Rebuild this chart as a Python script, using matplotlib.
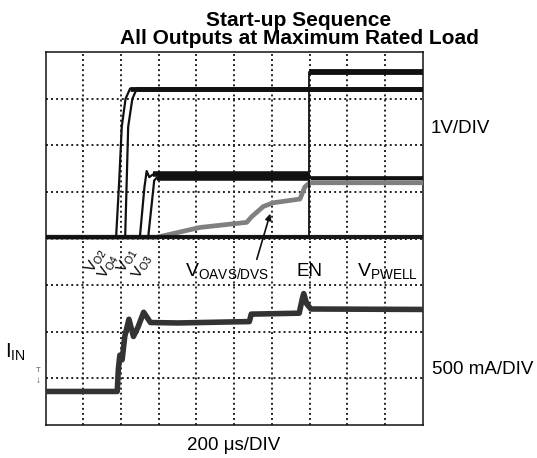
import matplotlib
matplotlib.use("Agg")
import matplotlib.pyplot as plt

plt.rcParams['font.family'] = ['Liberation Sans', 'DejaVu Sans']
plt.rcParams['mathtext.fontset'] = 'custom'
plt.rcParams['mathtext.rm'] = 'Liberation Sans'
plt.rcParams['mathtext.it'] = 'Liberation Sans'
plt.rcParams['mathtext.default'] = 'regular'

# ---- data (oscilloscope divisions: x 0..10, y 0..8) ----
gnd_x = [0, 10]
gnd_y = [4.03, 4.03]
vo2_x = [0, 1.87, 1.95, 2.02, 2.12, 2.24, 10]
vo2_y = [4.03, 4.03, 5.2, 6.4, 7.0, 7.22, 7.22]
vo4_x = [0, 2.11, 2.15, 2.19, 2.30, 2.42, 10]
vo4_y = [4.03, 4.03, 5.2, 6.4, 7.0, 7.22, 7.22]
vo1_x = [0, 2.50, 2.62, 2.68, 2.75, 2.85, 6.97, 7.02, 10]
vo1_y = [4.03, 4.03, 5.1, 5.45, 5.32, 5.38, 5.38, 5.30, 5.30]
vo3_x = [0, 2.72, 2.88, 2.95, 6.97, 7.02, 10]
vo3_y = [4.03, 4.03, 5.25, 5.31, 5.31, 5.30, 5.30]
pwell_x = [0, 6.97, 6.97, 10]
pwell_y = [4.03, 4.03, 7.58, 7.58]
avs_x = [0, 2.95, 4.09, 5.33, 5.46, 5.77, 6.03, 6.74, 6.87, 7.0, 10]
avs_y = [4.03, 4.03, 4.24, 4.35, 4.47, 4.69, 4.77, 4.85, 5.11, 5.2, 5.2]
iin_x = [0, 1.90, 1.93, 1.97, 2.03, 2.10, 2.21, 2.33, 2.45, 2.60, 2.78, 3.5, 5.40, 5.45,
         6.72, 6.80, 6.84, 6.92, 7.03, 10]
iin_y = [0.72, 0.72, 1.2, 1.5, 1.4, 1.9, 2.27, 1.9, 2.1, 2.42, 2.2, 2.19, 2.22, 2.38,
         2.40, 2.7, 2.82, 2.6, 2.49, 2.48]

title_lines = ["Start-up Sequence", "All Outputs at Maximum Rated Load"]
vo_labels = [r"$V_{O2}$", r"$V_{O4}$", r"$V_{O1}$", r"$V_{O3}$"]

W, H = 537, 458
fig = plt.figure(figsize=(W / 100, H / 100), dpi=100)
fig.patch.set_facecolor('white')

def fx(px):
    return px / W

def fy(py):
    return 1 - py / H

L, R, T, B = 45.5, 423, 52.3, 425
ax = fig.add_axes([fx(L), fy(B), (R - L) / W, (B - T) / H])
ax.set_xlim(0, 10)
ax.set_ylim(0, 8)
ax.set_xticks([])
ax.set_yticks([])
for s in ax.spines.values():
    s.set_linewidth(1.1)
    s.set_color('#111111')

dot = (0, (1.0, 1.6))
for gx in range(1, 10):
    ax.axvline(gx, color='#222222', lw=1.4, ls=dot, zorder=1)
for gy in range(1, 8):
    ax.axhline(gy, color='#222222', lw=1.4, ls=dot, zorder=1)

blk = '#111111'
gray = '#808080'

def trace(x, y, color, thin, thick_ranges):
    ax.plot(x, y, color=color, lw=thin, zorder=4, solid_joinstyle='round')
    for (i, j, lw) in thick_ranges:
        ax.plot(x[i:j], y[i:j], color=color, lw=lw, zorder=4,
                solid_capstyle='butt')

ax.plot(iin_x, iin_y, color='#333333', lw=4, zorder=3, solid_joinstyle='round')
ax.plot(avs_x, avs_y, color=gray, lw=3.4, zorder=3, solid_joinstyle='round')
ax.plot(gnd_x, gnd_y, color='#1a1a1a', lw=3.0, zorder=3.5)
trace(pwell_x, pwell_y, blk, 1.3, [(2, 4, 4.2)])
trace(vo3_x, vo3_y, blk, 1.6, [(3, 5, 4.0), (5, 7, 2.6)])
trace(vo1_x, vo1_y, blk, 1.6, [(5, 7, 4.0), (7, 9, 2.4)])
trace(vo4_x, vo4_y, blk, 1.6, [(5, 7, 3.4)])
trace(vo2_x, vo2_y, blk, 1.6, [(5, 7, 3.4)])

# ---- text ----
fig.text(fx(299), fy(20), title_lines[0], ha='center', va='center',
         fontsize=15, fontweight='bold')
fig.text(fx(299), fy(39), title_lines[1], ha='center', va='center',
         fontsize=15, fontweight='bold')

fig.text(fx(460), fy(129), "1V/DIV", ha='center', va='center', fontsize=13.5)
fig.text(fx(483), fy(369), "500 mA/DIV", ha='center', va='center', fontsize=13.5)
fig.text(fx(234), fy(446), "200 \u03bcs/DIV", ha='center', va='center', fontsize=13.5)
fig.text(fx(5), fy(358), r"$I_{IN}$", ha='left', va='baseline', fontsize=14.5)

fig.text(fx(185), fy(276), r"$V_{OAVS/DVS}$", ha='left', va='baseline', fontsize=14)
fig.text(fx(297), fy(276), "EN", ha='left', va='baseline', fontsize=13.5)
fig.text(fx(357), fy(276), r"$V_{PWELL}$", ha='left', va='baseline', fontsize=14)

vo_pos = [(96, 261), (108, 267), (127, 261), (142, 267)]
for lab, (px, py) in zip(vo_labels, vo_pos):
    fig.text(fx(px), fy(py), lab, ha='center', va='center', fontsize=11,
             rotation=60, rotation_mode='anchor')

fig.text(fx(38), fy(370), "T", ha='center', va='center', fontsize=5.5, color='#555555')
fig.text(fx(38), fy(380), "\u2193", ha='center', va='center', fontsize=7, color='#555555')

fig.patches.append(matplotlib.patches.FancyArrowPatch(
    (fx(256), fy(262)), (fx(271), fy(211)), transform=fig.transFigure,
    arrowstyle='-|>', mutation_scale=9, color=blk, lw=1.2))

fig.savefig("out.png", dpi=100, facecolor='white')
